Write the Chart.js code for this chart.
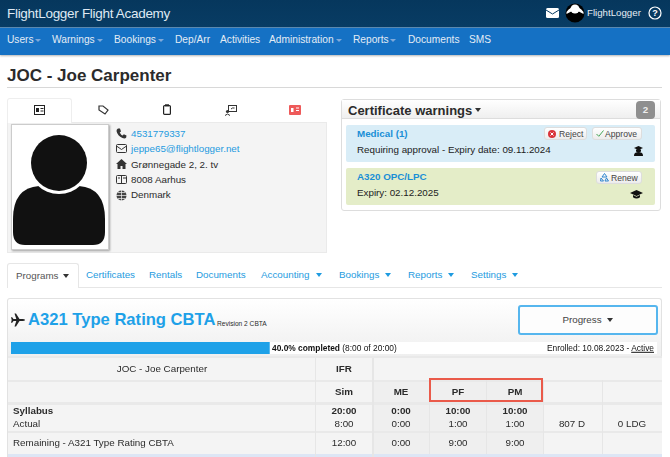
<!DOCTYPE html>
<html>
<head>
<meta charset="utf-8">
<script src="https://cdn.jsdelivr.net/npm/chart.js@4"></script>
<style>
  html, body { margin: 0; padding: 0; width: 670px; height: 457px; overflow: hidden; background: #fff; }
  body { position: relative; font-family: "Liberation Sans", Arial, sans-serif; font-size: 9.8px; color: #2b2b2b; filter: blur(0.35px); }
  .b { position: absolute; box-sizing: border-box; }
  .t { position: absolute; white-space: nowrap; line-height: 1; transform: translateY(-50%); }
  .c { transform: translate(-50%, -50%); }
  .r { transform: translate(-100%, -50%); }
  .w { color: #e3ecf5; font-size: 10.2px; }
  .l { color: #1e9be0; }
  .s { font-weight: bold; }
  .caret { position: absolute; width: 0; height: 0; border-left: 3.5px solid transparent; border-right: 3.5px solid transparent; border-top: 4px solid #333; }
  .caret.n { border-top-color: #7fa9da; border-left-width: 3px; border-right-width: 3px; border-top-width: 3px; }
  .caret.bl { border-top-color: #1e9be0; }
  .btn { position: absolute; box-sizing: border-box; background: linear-gradient(#fff, #ececec); border: 1px solid #ddd; border-radius: 3px; }
  .bt { font-size: 8.6px; color: #444; }
  svg { position: absolute; }
  #progress-wrap { position: absolute; left: 11px; top: 342px; width: 646px; height: 12px; }
  .rl { position: absolute; left: 8px; width: 654px; height: 2px; background: #e9e9e9; }
  .cl { position: absolute; width: 1px; background: #e6e6e6; }
</style>
</head>
<body>
<!-- top bars -->
<div class="b" style="left:0;top:0;width:670px;height:28px;background:linear-gradient(#06375d,#083c64);border-bottom:1px solid #5d8cb4"></div>
<div class="b" style="left:0;top:28px;width:670px;height:27px;background:#1571c4;box-shadow:0 1px 2px rgba(0,0,0,.3)"></div>
<span class="t" style="left:7px;top:14px;font-size:13.5px;letter-spacing:-.3px;color:#dfe9f3">FlightLogger Flight Academy</span>
<svg style="left:546px;top:8px" width="13" height="10" viewBox="0 0 13 10"><rect width="13" height="10" rx="1.5" fill="#fff"/><path d="M0 2 L6.500 6 L13 2" fill="none" stroke="#083c64" stroke-width="1"/></svg>
<svg style="left:565px;top:3px" width="20" height="20" viewBox="0 0 20 20"><circle cx="10" cy="10" r="9.500" fill="#000"/><circle cx="10" cy="6" r="4.500" fill="#fff"/><path d="M1.500 11 Q10 5 18.500 11 L18.500 9 Q10 -2 1.500 9Z" fill="#fff"/></svg>
<span class="t" style="left:587px;top:13px;color:#e6edf4;font-size:9.700px">FlightLogger</span>
<svg style="left:648px;top:6px" width="14" height="14" viewBox="0 0 14 14"><circle cx="7" cy="7" r="6" fill="none" stroke="#fff" stroke-width="1.200"/><text x="7" y="10.200" font-size="9" font-weight="bold" fill="#fff" text-anchor="middle" font-family="Liberation Sans">?</text></svg>

<!-- nav -->
<span class="t w" style="left:7px;top:40px">Users</span><i class="caret n" style="left:35px;top:39px"></i>
<span class="t w" style="left:52px;top:40px">Warnings</span><i class="caret n" style="left:97px;top:39px"></i>
<span class="t w" style="left:114px;top:40px">Bookings</span><i class="caret n" style="left:158px;top:39px"></i>
<span class="t w" style="left:175px;top:40px">Dep/Arr</span>
<span class="t w" style="left:220px;top:40px">Activities</span>
<span class="t w" style="left:269px;top:40px">Administration</span><i class="caret n" style="left:336px;top:39px"></i>
<span class="t w" style="left:353px;top:40px">Reports</span><i class="caret n" style="left:390px;top:39px"></i>
<span class="t w" style="left:408px;top:40px">Documents</span>
<span class="t w" style="left:469px;top:40px">SMS</span>

<!-- heading -->
<span class="t s" style="left:7px;top:75px;font-size:17px">JOC - Joe Carpenter</span>
<div class="b" style="left:7px;top:87px;width:655px;height:1px;background:#d8d8d8"></div>

<!-- profile tabs -->
<div class="b" style="left:7px;top:98px;width:65px;height:25px;background:#fff;border:1px solid #eee;border-bottom:none;border-radius:3px 3px 0 0;z-index:2"></div>
<div class="b" style="left:7px;top:122px;width:320px;height:131px;background:#f4f4f4;border:1px solid #eaeaea"></div>
<svg style="left:34px;top:105px;z-index:3" width="11" height="10" viewBox="0 0 11 10"><rect x=".5" y=".5" width="10" height="9" fill="none" stroke="#222"/><rect x="2" y="3" width="3" height="4" fill="#222"/><path d="M6.500 3.500h3M6.500 6h3" stroke="#222"/></svg>
<svg style="left:98px;top:105px" width="11" height="10" viewBox="0 0 11 10"><path d="M1 1h4l5 4-3 4-6-4z" fill="none" stroke="#333" stroke-width="1.200"/></svg>
<svg style="left:163px;top:104px" width="8" height="11" viewBox="0 0 8 11"><rect x=".6" y="1.600" width="6.800" height="8.800" rx="1" fill="none" stroke="#222" stroke-width="1.200"/><rect x="2" y=".3" width="4" height="2" fill="#222"/></svg>
<svg style="left:225px;top:105px" width="12" height="11" viewBox="0 0 12 11"><rect x="3.500" y=".5" width="8" height="6" fill="none" stroke="#333"/><circle cx="2.500" cy="6.500" r="1.600" fill="#333"/><path d="M0 10.500q2.500-3 5 0" fill="none" stroke="#333"/><path d="M6 4l1.500-1 2 0" stroke="#333" fill="none"/></svg>
<svg style="left:289px;top:105px" width="12" height="10" viewBox="0 0 12 10"><rect width="12" height="10" rx="1" fill="#ee5a5a"/><rect x="2" y="3" width="2.500" height="4" fill="#fff"/><rect x="7" y="2.500" width="3" height="1" fill="#fff"/><rect x="7" y="5" width="3" height="1" fill="#fff"/></svg>

<!-- photo -->
<div class="b" style="left:11px;top:124px;width:98px;height:126px;background:#fff;border:1px solid #ccc;box-shadow:1px 1px 2px rgba(0,0,0,.35)"></div>
<svg style="left:11px;top:124px" width="98" height="126" viewBox="0 0 98 126">
  <path d="M14 121 Q2 121 2 108 L2 95 Q2 64 28 62 L68 62 Q94 64 94 95 L94 108 Q94 121 82 121Z" fill="#111"/>
  <circle cx="48" cy="39" r="31" fill="#fff"/>
  <circle cx="48" cy="39" r="28" fill="#111"/>
</svg>
<!-- contact -->
<svg style="left:116px;top:128px" width="11" height="11" viewBox="0 0 11 11"><path d="M2 .5 L4 .5 L5 3.500 L3.700 4.500 Q5 7 6.700 7.500 L7.800 6.200 L10.500 7.500 L10.200 9.500 Q9 11 6.500 10 Q1.500 8 .5 3 Q.5 1.200 2 .5Z" fill="#333"/></svg>
<svg style="left:116px;top:144px" width="11" height="9" viewBox="0 0 11 9"><rect x=".5" y=".5" width="10" height="8" rx="1" fill="none" stroke="#333"/><path d="M.5 2 L5.500 5.500 L10.500 2" fill="none" stroke="#333"/></svg>
<svg style="left:116px;top:159px" width="11" height="10" viewBox="0 0 11 10"><path d="M0 5 L5.500 0 L11 5 L9.500 5 L9.500 10 L6.500 10 L6.500 7 L4.500 7 L4.500 10 L1.500 10 L1.500 5Z" fill="#333"/></svg>
<svg style="left:116px;top:175px" width="11" height="9" viewBox="0 0 11 9"><rect x=".5" y=".5" width="10" height="8" rx="1" fill="none" stroke="#333"/><path d="M5.500 1v7M7 3h3M2 3h2" stroke="#333"/></svg>
<svg style="left:116px;top:190px" width="11" height="11" viewBox="0 0 11 11"><circle cx="5.500" cy="5.500" r="5" fill="#444"/><path d="M0 5.500h11M5.500 0v11M2 2.500h7M2 8.500h7" stroke="#f4f4f4" stroke-width=".7"/></svg>
<span class="t l" style="left:131px;top:133.500px">4531779337</span>
<span class="t l" style="left:131px;top:149px">jeppe65@flightlogger.net</span>
<span class="t" style="left:131px;top:164.500px">Grønnegade 2, 2. tv</span>
<span class="t" style="left:131px;top:180px">8008 Aarhus</span>
<span class="t" style="left:131px;top:195px">Denmark</span>

<!-- certificate warnings -->
<div class="b" style="left:341px;top:99px;width:320px;height:112px;background:#fff;border:1px solid #ddd;border-radius:3px"></div>
<div class="b" style="left:342px;top:100px;width:318px;height:19px;background:linear-gradient(#fff,#efefef);border-bottom:1px solid #ddd"></div>
<span class="t s" style="left:348px;top:110px;font-size:13px">Certificate warnings</span>
<i class="caret" style="left:475px;top:108px"></i>
<div class="b" style="left:636px;top:101px;width:19px;height:18px;background:#8f8f8f;border-radius:4px"></div>
<span class="t c s" style="left:645.500px;top:110px;color:#eee">2</span>

<div class="b" style="left:346px;top:125px;width:309px;height:37px;background:#d9edf7;border-radius:2px"></div>
<span class="t s" style="left:357px;top:133.500px;color:#1a8fd6">Medical (1)</span>
<div class="btn" style="left:544px;top:127px;width:43px;height:13px"></div>
<svg style="left:548px;top:129.500px" width="8" height="8" viewBox="0 0 8 8"><circle cx="4" cy="4" r="4" fill="#d9343a"/><path d="M2.500 2.500l3 3M5.500 2.500l-3 3" stroke="#fff"/></svg>
<span class="t bt" style="left:559px;top:134px">Reject</span>
<div class="btn" style="left:592px;top:127px;width:50px;height:13px"></div>
<svg style="left:596px;top:130px" width="8" height="7" viewBox="0 0 8 7"><path d="M.5 4l2.300 2.300L7.500 .5" fill="none" stroke="#46a557" stroke-width="1"/></svg>
<span class="t bt" style="left:605px;top:134px">Approve</span>
<span class="t" style="left:357px;top:150px;color:#222">Requiring approval - Expiry date: 09.11.2024</span>
<svg style="left:634px;top:146px" width="9" height="10" viewBox="0 0 9 10"><path d="M4.500 0L9 2 4.500 4 0 2z M2 3.500h5v1.500a2.500 1.500 0 0 1-5 0z M0 10q0-3.500 2.500-3.500h4q2.500 0 2.500 3.500z" fill="#111"/></svg>

<div class="b" style="left:346px;top:168px;width:309px;height:37px;background:#e4edc8;border-radius:2px"></div>
<span class="t s" style="left:357px;top:177px;color:#1a8fd6">A320 OPC/LPC</span>
<div class="btn" style="left:596px;top:171px;width:46px;height:13px"></div>
<svg style="left:600px;top:173px" width="9" height="9" viewBox="0 0 9 9"><path d="M4.500 .5L7 4H2zM1 5l-.5 3h3zM8.500 8H5l1.500-3z" fill="none" stroke="#3187d0" stroke-width="1"/></svg>
<span class="t bt" style="left:611px;top:177.500px">Renew</span>
<span class="t" style="left:357px;top:193px;color:#222">Expiry: 02.12.2025</span>
<svg style="left:630px;top:190px" width="13" height="9" viewBox="0 0 13 9"><path d="M6.500 0L13 3 6.500 6 0 3z M3 5v2.200q3.500 2.400 7 0V5L6.500 6.800z" fill="#111"/></svg>

<!-- lower tabs -->
<div class="b" style="left:7px;top:287px;width:655px;height:1px;background:#e6e6e6"></div>
<div class="b" style="left:7px;top:263px;width:72px;height:25px;background:#fff;border:1px solid #e6e6e6;border-bottom:none;border-radius:3px 3px 0 0"></div>
<span class="t" style="left:16px;top:275.500px;color:#555">Programs</span><i class="caret" style="left:63px;top:274px"></i>
<span class="t l" style="left:86px;top:275px">Certificates</span>
<span class="t l" style="left:149px;top:275px">Rentals</span>
<span class="t l" style="left:196px;top:275px">Documents</span>
<span class="t l" style="left:261px;top:275px">Accounting</span><i class="caret bl" style="left:316px;top:273px"></i>
<span class="t l" style="left:339px;top:275px">Bookings</span><i class="caret bl" style="left:385px;top:273px"></i>
<span class="t l" style="left:408px;top:275px">Reports</span><i class="caret bl" style="left:448px;top:273px"></i>
<span class="t l" style="left:471px;top:275px">Settings</span><i class="caret bl" style="left:512px;top:273px"></i>

<!-- program panel -->
<div class="b" style="left:7px;top:298px;width:655px;height:159px;background:linear-gradient(#fff 0,#eee 60px,#f4f4f4 60px);border:1px solid #e2e2e2;border-bottom:none;border-radius:3px 3px 0 0"></div>
<svg style="left:11px;top:313px" width="14" height="14" viewBox="0 0 14 14"><path d="M14 7Q14 6 11.500 6L8.500 6 5 .5 3.500 .5 5.300 6 2.500 6 1.200 4.300 0 4.300.7 7 0 9.700 1.200 9.700 2.500 8 5.300 8 3.500 13.500 5 13.500 8.500 8 11.500 8Q14 8 14 7Z" fill="#222"/></svg>
<span class="t s" style="left:28px;top:320px;font-size:16.600px;color:#1ea1e8">A321 Type Rating CBTA</span>
<span class="t" style="left:217px;top:323.500px;font-size:6.600px">Revision 2 CBTA</span>
<div class="b" style="left:518px;top:305px;width:140px;height:30px;background:#fdfdfd;border:2px solid #56b6ee;border-radius:3px"></div>
<span class="t c" style="left:582px;top:320px;color:#444">Progress</span>
<i class="caret" style="left:606.500px;top:318px"></i>

<!-- progress bar drawn by Chart.js -->
<div id="progress-wrap"><canvas id="progress-chart"></canvas></div>
<span class="t s" style="left:272px;top:348px;font-size:8.400px;color:#111">40.0% completed <span style="font-weight:normal">(8:00 of 20:00)</span></span>
<span class="t r" style="left:654px;top:348px;font-size:8.400px;color:#111">Enrolled: 10.08.2023 - <u>Active</u></span>

<!-- table -->
<div class="b" style="left:8px;top:357px;width:654px;height:100px;background:#f4f4f4"></div>
<div class="b" style="left:373px;top:380px;width:170px;height:74px;background:#efefef"></div>
<div class="b" style="left:8px;top:454px;width:654px;height:3px;background:#dde6f5"></div>
<div class="rl" style="top:356px"></div>
<div class="rl" style="top:380px"></div>
<div class="rl" style="top:402px;height:3px"></div>
<div class="rl" style="top:431px"></div>
<div class="cl" style="left:315px;top:358px;height:99px"></div>
<div class="cl" style="left:372px;top:358px;height:99px;width:2px"></div>
<div class="cl" style="left:429px;top:380px;height:74px"></div>
<div class="cl" style="left:486px;top:380px;height:74px"></div>
<div class="cl" style="left:543px;top:380px;height:74px"></div>
<div class="cl" style="left:602px;top:380px;height:74px"></div>
<div class="b" style="left:429px;top:378px;width:114px;height:24px;border:2px solid #ea5a4a"></div>
<div id="table-cells"></div>

<script>
// ─── Progress data ────────────────────────────────────────────
const programLabels = ['A321 Type Rating CBTA'];
const completedHours = [8];
const remainingHours = [12];
const syllabusHours = 20;

// ─── Table data ───────────────────────────────────────────────
const columnNames = ['Sim', 'ME', 'PF', 'PM'];
const syllabusRow = ['20:00', '0:00', '10:00', '10:00'];
const actualRow = ['8:00', '0:00', '1:00', '1:00'];
const remainingRow = ['12:00', '0:00', '9:00', '9:00'];
const columnCentres = [344, 401, 458, 515];

function addCell(text, x, y, bold, align) {
  const el = document.createElement('span');
  el.className = 't' + (align === 'left' ? '' : ' c') + (bold ? ' s' : '');
  el.style.left = x + 'px';
  el.style.top = y + 'px';
  el.textContent = text;
  document.getElementById('table-cells').appendChild(el);
}

addCell('JOC - Joe Carpenter', 162, 368.5);
addCell('IFR', 344, 368.5, true);
columnNames.forEach((name, i) => {
  addCell(name, columnCentres[i], 392, true);
  addCell(syllabusRow[i], columnCentres[i], 411, true);
  addCell(actualRow[i], columnCentres[i], 424);
  addCell(remainingRow[i], columnCentres[i], 443);
});
addCell('Syllabus', 13, 411, true, 'left');
addCell('Actual', 13, 424, false, 'left');
addCell('Remaining - A321 Type Rating CBTA', 13, 443, false, 'left');
addCell('807 D', 572, 424);
addCell('0 LDG', 632, 424);

// ─── Bar: Program Progress ────────────────────────────────────
new Chart(document.getElementById('progress-chart'), {
  type: 'bar',
  data: {
    labels: programLabels,
    datasets: [
      { label: 'Completed', data: completedHours, backgroundColor: '#1ea1e8', borderRadius: 3, borderSkipped: false },
      { label: 'Remaining', data: remainingHours, backgroundColor: '#ffffff' }
    ]
  },
  options: {
    indexAxis: 'y',
    responsive: true,
    maintainAspectRatio: false,
    animation: false,
    layout: { padding: 0 },
    barPercentage: 1,
    categoryPercentage: 1,
    plugins: { legend: { display: false }, tooltip: { enabled: false } },
    scales: {
      x: { stacked: true, min: 0, max: syllabusHours, display: false },
      y: { stacked: true, display: false }
    }
  }
});
</script>
</body>
</html>
